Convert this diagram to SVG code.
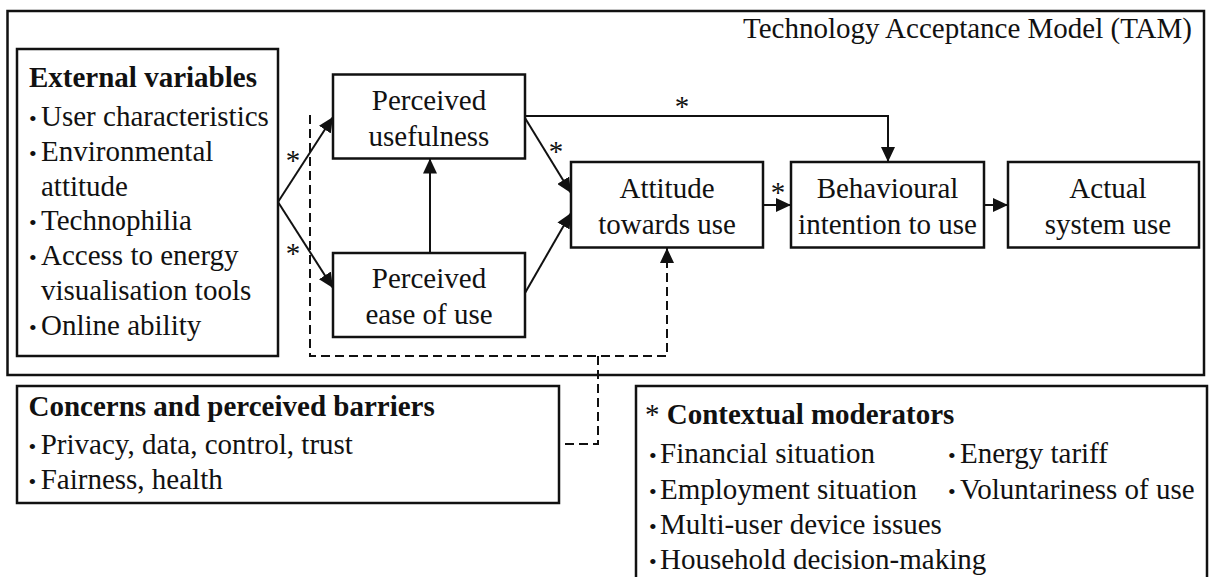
<svg xmlns="http://www.w3.org/2000/svg" width="1211" height="577" viewBox="0 0 1211 577">
  <defs>
    <style>
      .box { fill: #fff; stroke: #111; stroke-width: 2.5; }
      .outer { fill: none; stroke: #111; stroke-width: 2.5; }
      .t { font-family: "Liberation Serif", "Times New Roman", serif; font-size: 29px; fill: #111; }
      .b { font-weight: bold; }
      .c { text-anchor: middle; }
      .e { text-anchor: end; }
      .bul { font-size: 22px; }
      .ln { fill: none; stroke: #111; stroke-width: 2; }
      .dash { fill: none; stroke: #111; stroke-width: 2; stroke-dasharray: 9 5; }
    </style>
    <marker id="arr" viewBox="0 0 15 14" refX="15" refY="7" markerWidth="15" markerHeight="14" markerUnits="userSpaceOnUse" orient="auto">
      <path d="M0,0 L15,7 L0,14 z" fill="#111"/>
    </marker>
  </defs>
  <rect width="1211" height="577" fill="#fff"/>

  <g id="tam">
    <rect class="outer" x="7.5" y="11" width="1196.5" height="364"/>
    <text class="t e" x="1192" y="38">Technology Acceptance Model (TAM)</text>
  </g>

  <g id="external-variables">
    <rect class="box" x="17" y="49" width="261" height="307"/>
    <text class="t b" x="29" y="87">External variables</text>
    <text class="t bul" x="29" y="126">•</text><text class="t" x="41" y="126">User characteristics</text>
    <text class="t bul" x="29" y="160.8">•</text><text class="t" x="41" y="160.8">Environmental</text>
    <text class="t" x="41" y="195.6">attitude</text>
    <text class="t bul" x="29" y="230.4">•</text><text class="t" x="41" y="230.4">Technophilia</text>
    <text class="t bul" x="29" y="265.2">•</text><text class="t" x="41" y="265.2">Access to energy</text>
    <text class="t" x="41" y="300">visualisation tools</text>
    <text class="t bul" x="29" y="334.8">•</text><text class="t" x="41" y="334.8">Online ability</text>
  </g>

  <g id="perceived-usefulness">
    <rect class="box" x="333" y="74.5" width="192" height="84"/>
    <text class="t c" x="429" y="110">Perceived</text>
    <text class="t c" x="429" y="146">usefulness</text>
  </g>

  <g id="perceived-ease-of-use">
    <rect class="box" x="333" y="253" width="192" height="84"/>
    <text class="t c" x="429" y="288">Perceived</text>
    <text class="t c" x="429" y="324">ease of use</text>
  </g>

  <g id="attitude">
    <rect class="box" x="571" y="162" width="192" height="85.5"/>
    <text class="t c" x="667" y="198">Attitude</text>
    <text class="t c" x="667" y="234">towards use</text>
  </g>

  <g id="behavioural-intention">
    <rect class="box" x="791" y="162" width="193" height="85.5"/>
    <text class="t c" x="887.5" y="198">Behavioural</text>
    <text class="t c" x="887.5" y="234">intention to use</text>
  </g>

  <g id="actual-use">
    <rect class="box" x="1008" y="162" width="191" height="85.5"/>
    <text class="t c" x="1108" y="198">Actual</text>
    <text class="t c" x="1108" y="234">system use</text>
  </g>

  <g id="concerns">
    <rect class="box" x="17" y="386" width="542" height="117"/>
    <text class="t b" x="28.5" y="416">Concerns and perceived barriers</text>
    <text class="t bul" x="28.5" y="454">•</text><text class="t" x="40.7" y="454">Privacy, data, control, trust</text>
    <text class="t bul" x="28.5" y="489">•</text><text class="t" x="40.7" y="489">Fairness, health</text>
  </g>

  <g id="contextual-moderators">
    <rect class="box" x="636" y="386" width="571" height="210"/>
    <text class="t" x="645" y="424">* <tspan class="b">Contextual moderators</tspan></text>
    <text class="t bul" x="649" y="463">•</text><text class="t" x="660" y="463">Financial situation</text>
    <text class="t bul" x="948" y="463">•</text><text class="t" x="960" y="463">Energy tariff</text>
    <text class="t bul" x="649" y="499">•</text><text class="t" x="660" y="499">Employment situation</text>
    <text class="t bul" x="948" y="499">•</text><text class="t" x="960" y="499">Voluntariness of use</text>
    <text class="t bul" x="649" y="534">•</text><text class="t" x="660" y="534">Multi-user device issues</text>
    <text class="t bul" x="649" y="569">•</text><text class="t" x="660" y="569">Household decision-making</text>
  </g>

  <g id="connectors">
    <line class="ln" x1="278" y1="202" x2="333" y2="117" marker-end="url(#arr)"/>
    <line class="ln" x1="278" y1="202" x2="333" y2="288" marker-end="url(#arr)"/>
    <line class="ln" x1="430" y1="253" x2="430" y2="158.5" marker-end="url(#arr)"/>
    <line class="ln" x1="525" y1="118" x2="571" y2="193" marker-end="url(#arr)"/>
    <line class="ln" x1="525" y1="293" x2="571" y2="213" marker-end="url(#arr)"/>
    <path class="ln" d="M525,116 H888 V162" marker-end="url(#arr)"/>
    <line class="ln" x1="763" y1="205" x2="791" y2="205" marker-end="url(#arr)"/>
    <line class="ln" x1="984" y1="205" x2="1008" y2="205" marker-end="url(#arr)"/>
    <path class="dash" d="M310,115 V356 H667 V248" marker-end="url(#arr)"/>
    <path class="dash" d="M598,356 V444 H559"/>
    <text class="t c" x="293" y="170">*</text>
    <text class="t c" x="293" y="263">*</text>
    <text class="t c" x="556" y="161">*</text>
    <text class="t c" x="682" y="116">*</text>
    <text class="t c" x="778" y="202">*</text>
  </g>
</svg>
